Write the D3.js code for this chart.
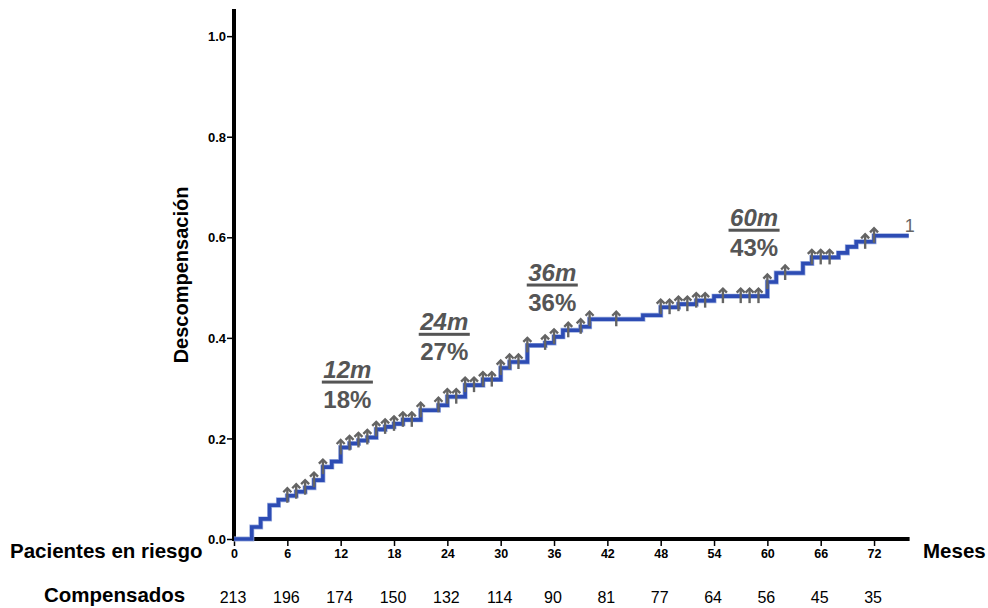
<!DOCTYPE html>
<html>
<head>
<meta charset="utf-8">
<script src="https://cdn.jsdelivr.net/npm/d3@7/dist/d3.min.js"></script>
<style>
  html, body { margin: 0; padding: 0; background: #fff; }
  svg { display: block; font-family: "Liberation Sans", Arial, Helvetica, sans-serif; }
</style>
</head>
<body>
<svg id="chart" width="988" height="608"></svg>
<script>
// Kaplan–Meier style cumulative incidence of decompensation (months)
const stepMonths = [0, 2, 3, 4, 5, 6, 7, 8, 9, 10, 11, 12, 13, 14, 15, 16, 17, 18, 19, 21, 23, 24, 26, 28, 30, 31, 33, 35, 36, 37, 39, 40, 46, 48, 50, 52, 54, 60, 61, 64, 65, 68, 69, 70, 72];
const cumIncidence = [0, 0.024, 0.040, 0.067, 0.078, 0.086, 0.094, 0.102, 0.117, 0.143, 0.154, 0.182, 0.190, 0.196, 0.202, 0.218, 0.223, 0.229, 0.237, 0.256, 0.266, 0.283, 0.306, 0.317, 0.340, 0.352, 0.385, 0.390, 0.402, 0.415, 0.422, 0.437, 0.445, 0.461, 0.467, 0.474, 0.483, 0.511, 0.529, 0.548, 0.560, 0.569, 0.581, 0.591, 0.603];
const followUpEnd = 75.9;

// Censored observations (months)
const censorMonths = [6, 7, 8, 9, 10, 12, 13, 14, 15, 16, 17, 18, 19, 20, 21, 23, 24, 25, 26, 27, 28, 29, 30, 31, 32, 33, 35, 36, 37.6, 39, 40, 43, 48, 49, 50, 51, 52, 53, 55, 57, 58, 59, 60, 62, 65, 66, 67, 71, 72];

// Axis ticks
const xTicks = [0, 6, 12, 18, 24, 30, 36, 42, 48, 54, 60, 66, 72];
const yTicks = [0, 0.2, 0.4, 0.6, 0.8, 1.0];

// Number at risk under each x tick
const atRisk = [213, 196, 174, 150, 132, 114, 90, 81, 77, 64, 56, 45, 35];

// Landmark annotations
const landmarkLabels = ["12m", "24m", "36m", "60m"];
const landmarkPct = ["18%", "27%", "36%", "43%"];
// where each annotation sits (month for left edge, value for first baseline)
const landmarkAnchorMonth = [10.05, 20.95, 33.1, 55.8];
const landmarkAnchorValue = [0.321, 0.416, 0.514, 0.623];

const finalLabel = "1";

const svg = d3.select("#chart");
const x = d3.scaleLinear().domain([0, 76]).range([234, 909.6]);
const y = d3.scaleLinear().domain([0, 1.054]).range([539, 9]);

// Axes
const yAxis = svg.append("g")
  .attr("transform", `translate(${x(0)},0)`)
  .call(d3.axisLeft(y).tickValues(yTicks).tickFormat(d3.format(".1f")).tickSize(7).tickSizeOuter(0));
yAxis.select(".domain").attr("stroke", "#000").attr("stroke-width", 4).attr("d", `M0,${y(1.054)}V${y(0) + 2}`);
yAxis.selectAll(".tick line").attr("stroke", "#000").attr("stroke-width", 1.5);
yAxis.selectAll(".tick text").attr("x", -8).attr("dy", "0.36em")
  .attr("font-size", 13).attr("font-weight", "bold").attr("fill", "#000")
  .attr("font-family", "Liberation Sans, Arial, sans-serif");

const xAxis = svg.append("g")
  .attr("transform", `translate(0,${y(0)})`)
  .call(d3.axisBottom(x).tickValues(xTicks).tickFormat(d3.format("d")).tickSize(7).tickSizeOuter(0));
xAxis.select(".domain").attr("stroke", "#000").attr("stroke-width", 4).attr("d", `M${x(0) - 2},0H${x(76)}`);
xAxis.selectAll(".tick line").attr("stroke", "#000").attr("stroke-width", 1.5);
xAxis.selectAll(".tick text").attr("y", 10).attr("dy", "0.71em")
  .attr("font-size", 12.5).attr("font-weight", "bold").attr("fill", "#000")
  .attr("font-family", "Liberation Sans, Arial, sans-serif");

// Step curve
const curvePts = stepMonths.map((m, i) => [m, cumIncidence[i]]);
curvePts.push([followUpEnd, cumIncidence[cumIncidence.length - 1]]);
const line = d3.line().x(d => x(d[0])).y(d => y(d[1])).curve(d3.curveStepAfter);
svg.append("path")
  .attr("d", line(curvePts))
  .attr("fill", "none")
  .attr("stroke", "#9fb0e0")
  .attr("stroke-width", 5)
  .attr("stroke-linejoin", "miter");
svg.append("path")
  .attr("d", line(curvePts))
  .attr("fill", "none")
  .attr("stroke", "#2d4cb4")
  .attr("stroke-width", 3.6)
  .attr("stroke-linejoin", "miter");

// Censor arrows sit on the curve value at their time
const valueAt = t => cumIncidence[Math.max(0, d3.bisectRight(stepMonths, t) - 1)];
const arrows = svg.append("g").attr("stroke", "#646464").attr("fill", "none")
  .attr("stroke-width", 2.4).attr("stroke-linecap", "butt");
censorMonths.forEach(t => {
  const cx = x(t), cy = y(valueAt(t));
  arrows.append("path").attr("d", `M${cx},${cy + 7}V${cy - 7.5}`);
  arrows.append("path").attr("d", `M${cx - 4},${cy - 3.5}L${cx},${cy - 7.5}L${cx + 4},${cy - 3.5}`)
    .attr("stroke-linejoin", "miter");
});

// Final number label
svg.append("text")
  .attr("x", x(followUpEnd) - 4).attr("y", y(cumIncidence[cumIncidence.length - 1]) - 4)
  .attr("font-size", 18).attr("fill", "#666").text(finalLabel);

// Landmark annotations
landmarkLabels.forEach((lab, i) => {
  const lx = x(landmarkAnchorMonth[i]);
  const by = y(landmarkAnchorValue[i]);
  const t = svg.append("text")
    .attr("x", lx).attr("y", by)
    .attr("font-size", 24).attr("font-weight", "bold").attr("font-style", "italic")
    .attr("fill", "#555").text(lab);
  const w = t.node().getComputedTextLength();
  svg.append("rect").attr("x", lx - 1.5).attr("y", by + 3).attr("width", w + 3).attr("height", 3).attr("fill", "#555");
  svg.append("text")
    .attr("x", lx).attr("y", by + 30)
    .attr("font-size", 24).attr("font-weight", "bold")
    .attr("fill", "#555").text(landmarkPct[i]);
});

// Axis titles
svg.append("text")
  .attr("transform", `translate(188,${275}) rotate(-90)`)
  .attr("text-anchor", "middle")
  .attr("font-size", 20).attr("font-weight", "bold").attr("fill", "#000")
  .text("Descompensación");

svg.append("text")
  .attr("x", 10).attr("y", 558)
  .attr("font-size", 20.5).attr("font-weight", "bold").attr("fill", "#000")
  .text("Pacientes en riesgo");

svg.append("text")
  .attr("x", 923).attr("y", 558)
  .attr("font-size", 20.5).attr("font-weight", "bold").attr("fill", "#000")
  .text("Meses");

svg.append("text")
  .attr("x", 44).attr("y", 602)
  .attr("font-size", 20.5).attr("font-weight", "bold").attr("fill", "#000")
  .text("Compensados");

// Numbers at risk
svg.append("g").selectAll("text").data(atRisk).join("text")
  .attr("x", (d, i) => x(xTicks[i]) - 1)
  .attr("y", 603)
  .attr("text-anchor", "middle")
  .attr("font-size", 16).attr("fill", "#000")
  .text(d => d);
</script>
</body>
</html>
